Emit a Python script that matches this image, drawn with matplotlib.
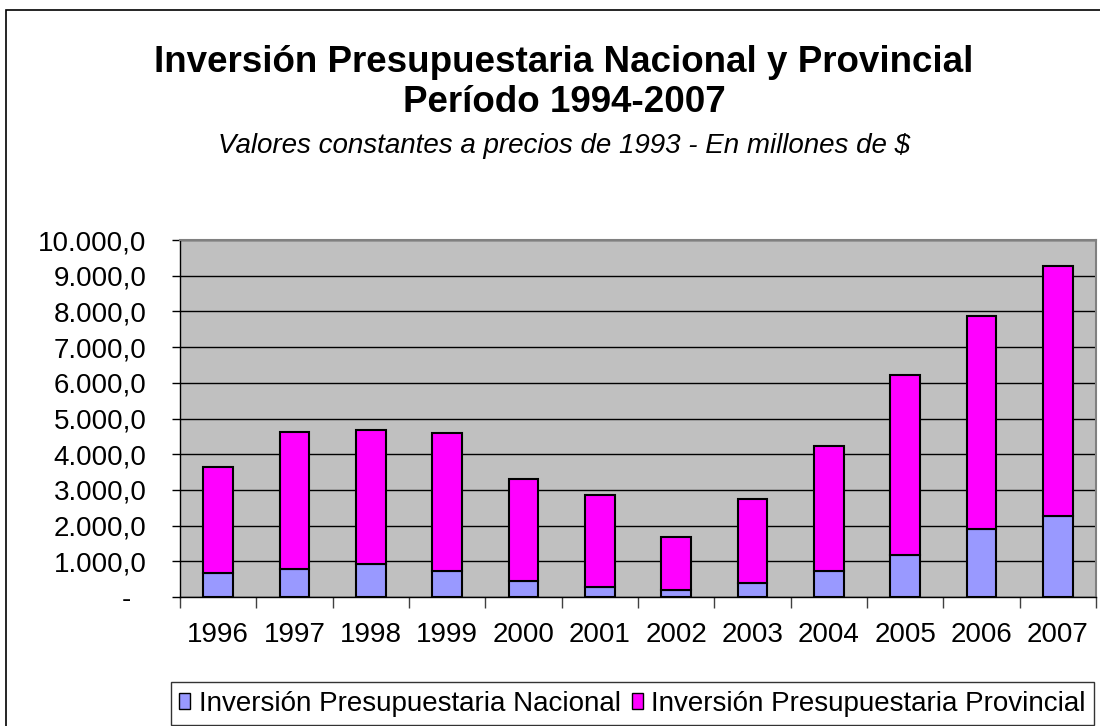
import matplotlib
matplotlib.use("Agg")
import matplotlib.pyplot as plt
import numpy as np
from matplotlib.patches import Rectangle, Patch
from matplotlib.ticker import FuncFormatter, FixedLocator

plt.rcParams['font.family'] = ['Liberation Sans', 'DejaVu Sans']

# values (millones de $ de 1993)
years = ['1996', '1997', '1998', '1999', '2000', '2001',
         '2002', '2003', '2004', '2005', '2006', '2007']
nacional = [673, 776, 925, 729, 440, 280, 187, 390, 730, 1180, 1910, 2260]
provincial = [2962, 3850, 3748, 3851, 2860, 2570, 1486, 2367, 3504, 5026, 5970, 7000]
y_ticks = list(range(0, 10001, 1000))

col_nac = '#9999FF'
col_prov = '#FF00FF'

fig = plt.figure(figsize=(11, 7.26), dpi=100)

# outer chart border (Excel chart area)
fig.patches.append(Rectangle((6 / 1100, -0.01), 1.02, 1 - 10 / 726 + 0.01,
                             transform=fig.transFigure, fill=False,
                             edgecolor='black', linewidth=1.2))

ax = fig.add_axes([180 / 1100, (726 - 597) / 726, 916 / 1100, 357 / 726])
ax.set_facecolor('#C0C0C0')

x = np.arange(len(years))
w = 0.39
ax.bar(x, nacional, width=w, color=col_nac, edgecolor='black', linewidth=1.5, zorder=3)
ax.bar(x, provincial, width=w, bottom=nacional, color=col_prov, edgecolor='black',
       linewidth=1.5, zorder=3)

ax.set_xlim(-0.5, len(years) - 0.5)
ax.set_ylim(0, 10000)

# y axis, spanish number format
def fmt(v, pos):
    if v == 0:
        return '-  '
    s = f'{v:,.1f}'
    return s.replace(',', 'X').replace('.', ',').replace('X', '.')

ax.yaxis.set_major_locator(FixedLocator(y_ticks))
ax.yaxis.set_major_formatter(FuncFormatter(fmt))
ax.tick_params(axis='y', length=6, width=1, pad=18, labelsize=20, color='black')
ax.grid(axis='y', color='black', linewidth=1, zorder=1)

# x axis: labels centred, tick marks between categories
ax.set_xticks(x)
ax.set_xticklabels(years)
ax.set_xticks(np.arange(-0.5, len(years)), minor=True)
ax.tick_params(axis='x', which='major', length=0, pad=18, labelsize=20)
ax.tick_params(axis='x', which='minor', length=8, width=1, color='#404040')

for s in ['top', 'right']:
    ax.spines[s].set_color('#808080')
    ax.spines[s].set_linewidth(1.5)
for s in ['left', 'bottom']:
    ax.spines[s].set_color('black')
    ax.spines[s].set_linewidth(1)

fig.text(564 / 1100, 1 - 62 / 726, 'Inversión Presupuestaria Nacional y Provincial',
         ha='center', va='center', fontsize=26.5, fontweight='bold')
fig.text(564 / 1100, 1 - 102 / 726, 'Período 1994-2007',
         ha='center', va='center', fontsize=26.5, fontweight='bold')
fig.text(564 / 1100, 1 - 146 / 726, 'Valores constantes a precios de 1993 - En millones de $',
         ha='center', va='center', fontsize=20, style='italic')

handles = [Patch(facecolor=col_nac, edgecolor='black', linewidth=1),
           Patch(facecolor=col_prov, edgecolor='black', linewidth=1)]
leg = fig.legend(handles, ['Inversión Presupuestaria Nacional', 'Inversión Presupuestaria Provincial'],
                 loc='lower left', bbox_to_anchor=(171 / 1100, 1 - 725 / 726), ncol=2,
                 fontsize=20, frameon=True, fancybox=False, handlelength=0.4,
                 handleheight=0.5, handletextpad=0.3, columnspacing=0.4,
                 borderpad=0.3, borderaxespad=0)
leg.get_frame().set_edgecolor('black')
leg.get_frame().set_linewidth(1)

fig.savefig('out.png', dpi=100)
